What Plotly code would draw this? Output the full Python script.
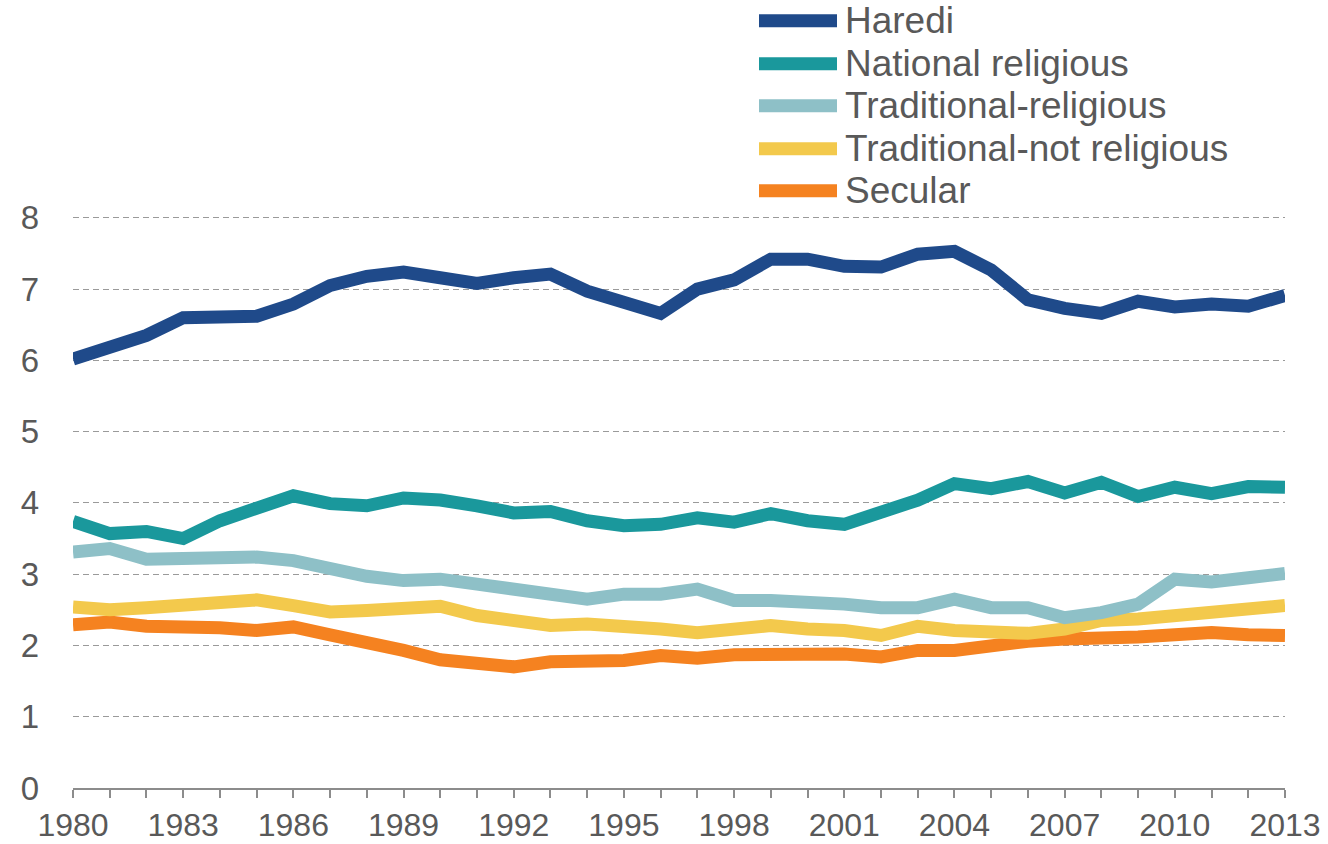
import plotly.graph_objects as go

years = list(range(1980, 2014))

haredi = [6.02, 6.17, 6.35, 6.60, 6.60, 6.62, 6.79, 7.05, 7.18, 7.24, 7.16, 7.08, 7.16, 7.21,
          6.97, 6.83, 6.66, 7.00, 7.13, 7.42, 7.42, 7.32, 7.31, 7.49, 7.53, 7.27, 6.85, 6.73,
          6.66, 6.83, 6.75, 6.79, 6.76, 6.91]
national_religious = [3.74, 3.57, 3.60, 3.50, 3.75, 3.94, 4.10, 3.99, 3.96, 4.07, 4.04, 3.96,
                      3.86, 3.88, 3.75, 3.68, 3.70, 3.79, 3.73, 3.85, 3.75, 3.70, 3.85, 4.04,
                      4.27, 4.20, 4.30, 4.14, 4.29, 4.09, 4.22, 4.13, 4.23, 4.22]
traditional_religious = [3.31, 3.36, 3.21, 3.21, 3.24, 3.24, 3.19, 3.07, 2.97, 2.91, 2.93, 2.86,
                         2.78, 2.71, 2.65, 2.72, 2.72, 2.79, 2.63, 2.63, 2.62, 2.58, 2.53, 2.53,
                         2.65, 2.53, 2.53, 2.39, 2.46, 2.58, 2.93, 2.89, 2.95, 3.01]
traditional_not_religious = [2.54, 2.50, 2.53, 2.57, 2.61, 2.64, 2.56, 2.47, 2.49, 2.51, 2.55,
                             2.42, 2.34, 2.28, 2.30, 2.28, 2.23, 2.18, 2.23, 2.28, 2.23, 2.21,
                             2.14, 2.27, 2.21, 2.17, 2.17, 2.23, 2.35, 2.37, 2.42, 2.47, 2.51, 2.56]
secular = [2.29, 2.33, 2.27, 2.27, 2.25, 2.21, 2.26, 2.15, 2.05, 1.93, 1.80, 1.77, 1.70, 1.77,
           1.78, 1.79, 1.86, 1.82, 1.87, 1.88, 1.88, 1.88, 1.84, 1.93, 1.93, 2.00, 2.06, 2.09,
           2.09, 2.12, 2.15, 2.18, 2.15, 2.14]

series_names = ["Haredi", "National religious", "Traditional-religious",
                "Traditional-not religious", "Secular"]
series_values = [haredi, national_religious, traditional_religious,
                 traditional_not_religious, secular]
colors = ["#1f4a8a", "#1a989c", "#8ec0c7", "#f3c94c", "#f58220"]

x_tick_vals = list(range(1980, 2014, 3))
y_tick_vals = list(range(0, 9))

FONT = "Liberation Sans, Arial, sans-serif"
TEXT_COLOR = "#595959"

fig = go.Figure()
for name, vals, col in zip(series_names[::-1], series_values[::-1], colors[::-1]):
    fig.add_trace(go.Scatter(x=years, y=vals, mode="lines", name=name,
                             line=dict(color=col, width=13), showlegend=False,
                             hoverinfo="x+y+name"))

# target page geometry (page pixels); body margin is removed by the post script
FIG_W, FIG_H = 1328, 844
Y_TOP = 8.04
x_left_page, x_right_page = 73, 1285
y0_page, y8_page = 788, 218
unit = (y0_page - y8_page) / 8.0
y_top_page = y0_page - Y_TOP * unit

L = x_left_page
R = FIG_W - x_right_page
T = y_top_page
B = FIG_H - y0_page
W = FIG_W - L - R
H = FIG_H - T - B

def px_to_paper_x(px):
    return (px - L) / W

def px_to_paper_y(py):
    return (FIG_H - B - py) / H

legend_rows_y = [21, 64, 106, 149, 191]
shapes = []
annotations = []
for name, col, py in zip(series_names, colors, legend_rows_y):
    yy = px_to_paper_y(py)
    shapes.append(dict(type="line", xref="paper", yref="paper",
                       x0=px_to_paper_x(759), x1=px_to_paper_x(837), y0=yy, y1=yy,
                       line=dict(color=col, width=13)))
    annotations.append(dict(xref="paper", yref="paper", x=px_to_paper_x(843), y=yy,
                            text=name, showarrow=False, xanchor="left", yanchor="middle",
                            font=dict(family=FONT, size=37, color=TEXT_COLOR)))

fig.update_layout(
    width=FIG_W, height=FIG_H,
    margin=dict(l=L, r=R, t=T, b=B, autoexpand=False),
    paper_bgcolor="white", plot_bgcolor="white",
    font=dict(family=FONT, color=TEXT_COLOR, size=32),
    shapes=shapes, annotations=annotations,
    xaxis=dict(range=[1980, 2013], tickvals=x_tick_vals, ticktext=[str(v) for v in x_tick_vals],
               automargin=False,
               showgrid=False, zeroline=False, showline=True, linecolor="#8c8c8c", linewidth=1.5,
               ticks="outside", ticklen=8, tickcolor="#8c8c8c", tickwidth=1.5,
               minor=dict(dtick=1, tick0=1980, ticks="outside", ticklen=8,
                          tickcolor="#8c8c8c", tickwidth=1.5, showgrid=False),
               tickfont=dict(family=FONT, size=32, color=TEXT_COLOR)),
    yaxis=dict(range=[0, Y_TOP], tickvals=y_tick_vals, showgrid=True, gridcolor="#9a9a9a",
               griddash="6px,4px", gridwidth=1.4, zeroline=False, showline=False,
               automargin=False, ticks="", ticklabelstandoff=33,
               tickfont=dict(family=FONT, size=33, color=TEXT_COLOR)),
)

fig.write_html(
    "out.html",
    config={"displayModeBar": False},
    post_script="document.body.style.margin='0px';document.body.style.overflow='hidden';",
)
